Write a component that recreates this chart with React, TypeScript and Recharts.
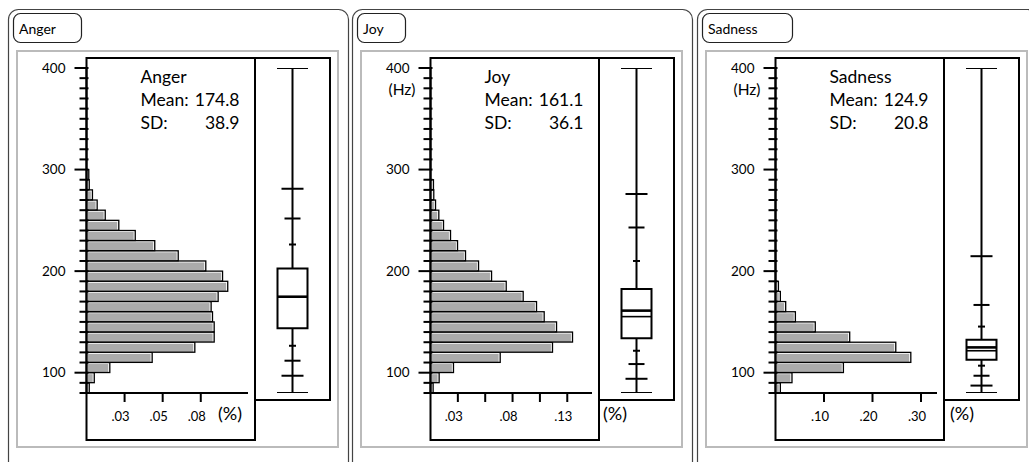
import React from "react";
import {
  BarChart,
  Bar,
  XAxis,
  YAxis,
  ComposedChart,
  Scatter,
  ReferenceArea,
  ReferenceLine,
} from "recharts";

const FONT = "Lato, 'Open Sans', sans-serif";

const emotions = ["Anger", "Joy", "Sadness"];
const means = [174.8, 161.1, 124.9];
const sds = [38.9, 36.1, 20.8];

// 10 Hz bins (lower edges)
const binStarts = [
  80, 90, 100, 110, 120, 130, 140, 150, 160, 170, 180, 190, 200, 210, 220, 230,
  240, 250, 260, 270, 280, 290, 300, 310, 320, 330, 340, 350, 360, 370, 380, 390,
];

// share of frames per bin, starting at 80 Hz
const angerPct = [
  0.0018, 0.0051, 0.0153, 0.0431, 0.0711, 0.0838, 0.0838, 0.0827, 0.0818, 0.0864,
  0.0927, 0.0893, 0.0783, 0.0602, 0.0448, 0.032, 0.0212, 0.0123, 0.007, 0.0039,
  0.0018, 0.0015,
];
const joyPct = [
  0.0024, 0.0079, 0.021, 0.0637, 0.1115, 0.1298, 0.1152, 0.1039, 0.0969, 0.0847,
  0.0692, 0.0558, 0.0439, 0.032, 0.0247, 0.0183, 0.0119, 0.0076, 0.0046, 0.003,
  0.0027,
];
const sadnessPct = [
  0.01, 0.034, 0.14, 0.279, 0.248, 0.153, 0.082, 0.041, 0.021, 0.01, 0.006,
];

// min, 1%, 2.5%, 10%, 25%, median, 75%, 90%, 97.5%, 99%, max
const angerQuantiles = [80, 97, 111.8, 126.5, 143.8, 174.6, 202.6, 226.2, 251.7, 281, 400];
const joyQuantiles = [80, 94, 108.5, 121.6, 134, 155.2, 182.4, 210, 243, 276, 400];
const sadnessQuantiles = [80, 87.3, 97, 106.9, 112.7, 121.6, 132.4, 145.4, 166.7, 214.7, 400];

const hzTicks = [
  80, 90, 100, 110, 120, 130, 140, 150, 160, 170, 180, 190, 200, 210, 220, 230,
  240, 250, 260, 270, 280, 290, 300, 310, 320, 330, 340, 350, 360, 370, 380, 390, 400,
];
const hzLabels = [100, 200, 300, 400];

const angerPctTicks = [0.025, 0.05, 0.075];
const angerPctLabels = [".03", ".05", ".08"];
const joyPctTicks = [0.025, 0.05, 0.075, 0.1, 0.125];
const joyPctLabels = [".03", "", ".08", "", ".13"];
const sadnessPctTicks = [0.1, 0.2, 0.3];
const sadnessPctLabels = [".10", ".20", ".30"];
const pctMax = [0.106, 0.1476, 0.333];

// styles
const CAP_QUANTILES = [0, 1, 2, 3, 7, 8, 9, 10];
const CAP_HALF = [15.5, 11, 8, 3.5, 3.5, 8, 11, 15.5];
const BOX_HALF = 0.4;
const PLOT_TOP = 68;
const PLOT_BOTTOM = 69;

type PanelCfg = {
  ox: number;
  pct: number[];
  ticks: number[];
  labels: string[];
  quantiles: number[];
  showHz: boolean;
  pctLabelX: number;
  tabW: number;
};

const panels: PanelCfg[] = [
  { ox: 0, pct: angerPct, ticks: angerPctTicks, labels: angerPctLabels, quantiles: angerQuantiles, showHz: false, pctLabelX: 218, tabW: 68 },
  { ox: 344, pct: joyPct, ticks: joyPctTicks, labels: joyPctLabels, quantiles: joyQuantiles, showHz: true, pctLabelX: 259, tabW: 48 },
  { ox: 689, pct: sadnessPct, ticks: sadnessPctTicks, labels: sadnessPctLabels, quantiles: sadnessQuantiles, showHz: true, pctLabelX: 261, tabW: 90 },
];

function HistBar(p: any) {
  const { x, y, width, height } = p;
  if (!width || width <= 0.2) return null;
  return (
    <g>
      <rect x={x} y={y + 1.5} width={Math.max(width - 1.6, 0)} height={Math.max(height - 1.5, 0)} fill="#ababab" />
      <rect x={x} y={y} width={width} height={height} fill="none" stroke="#000" strokeWidth={1.3} />
    </g>
  );
}

function HzTick(p: any) {
  const { x, y, payload, showHz } = p;
  const v = payload.value;
  const major = hzLabels.includes(v);
  return (
    <g>
      <line x1={x - (major ? 12 : 7)} x2={x + 2} y1={y} y2={y} stroke="#000" strokeWidth={2} />
      {major && (
        <text x={x - 21} y={y + 4.8} textAnchor="end" fontSize={13.5} fontFamily={FONT} fill="#000">
          {v}
        </text>
      )}
      {showHz && v === 400 && (
        <text x={x - 15} y={y + 26.5} textAnchor="end" fontSize={15.5} fontFamily={FONT} fill="#000">
          (Hz)
        </text>
      )}
    </g>
  );
}

function CapMark(p: any) {
  const { cx, cy, payload } = p;
  return <line x1={cx - payload.half} x2={cx + payload.half} y1={cy} y2={cy} stroke="#000" strokeWidth={2} />;
}

function Panel({ cfg, i }: { cfg: PanelCfg; i: number }) {
  const rows = binStarts.map((b, k) => ({ bin: b, pct: cfg.pct[k] ?? 0 }));
  const tickRows = hzTicks.map((v) => ({ hz: v }));
  const q = cfg.quantiles;
  const caps = CAP_QUANTILES.map((qi, k) => ({ x: 0, y: q[qi], half: CAP_HALF[k] }));
  return (
    <>
      {/* histogram */}
      <div style={{ position: "absolute", left: cfg.ox, top: 0 }}>
        <BarChart
          layout="vertical"
          width={262}
          height={462}
          data={rows}
          margin={{ top: PLOT_TOP, right: 14, bottom: PLOT_BOTTOM - 40, left: 86.5 }}
          barCategoryGap={0}
          barGap={0}
        >
          <XAxis
            type="number"
            domain={[0, pctMax[i]]}
            allowDataOverflow
            ticks={cfg.ticks}
            interval={0}
            height={40}
            tickFormatter={(v: number) => cfg.labels[cfg.ticks.indexOf(v)] ?? ""}
            axisLine={{ stroke: "#000", strokeWidth: 2 }}
            tickLine={{ stroke: "#000", strokeWidth: 2 }}
            tickSize={9}
            tickMargin={10}
            tick={{ fill: "#000", fontSize: 13, fontFamily: FONT, dx: -4 }}
          />
          <YAxis yAxisId="bin" type="category" dataKey="bin" hide reversed width={0} />
          <Bar yAxisId="bin" dataKey="pct" shape={<HistBar />} isAnimationActive={false} />
        </BarChart>
      </div>
      {/* Hz axis */}
      <div style={{ position: "absolute", left: cfg.ox, top: 0 }}>
        <ComposedChart
          width={100}
          height={462}
          data={tickRows}
          margin={{ top: PLOT_TOP, right: 0, bottom: PLOT_BOTTOM, left: 6.5 }}
        >
          <XAxis hide />
          <YAxis
            type="number"
            dataKey="hz"
            domain={[80, 400]}
            allowDataOverflow
            ticks={hzTicks}
            interval={0}
            width={80}
            tickSize={0}
            tickMargin={0}
            tickLine={false}
            axisLine={{ stroke: "#000", strokeWidth: 2 }}
            tick={<HzTick showHz={cfg.showHz} />}
          />
        </ComposedChart>
      </div>
      {/* box plot */}
      <div style={{ position: "absolute", left: cfg.ox + 255, top: 0 }}>
        <ComposedChart width={75} height={462} data={caps} margin={{ top: PLOT_TOP, right: 0, bottom: PLOT_BOTTOM, left: 0 }}>
          <XAxis type="number" dataKey="x" domain={[-1, 1]} hide />
          <YAxis type="number" dataKey="y" domain={[80, 400]} hide allowDataOverflow />
          <ReferenceLine segment={[{ x: 0, y: q[0] }, { x: 0, y: q[4] }]} stroke="#000" strokeWidth={2} />
          <ReferenceLine segment={[{ x: 0, y: q[6] }, { x: 0, y: q[10] }]} stroke="#000" strokeWidth={2} />
          <ReferenceArea x1={-BOX_HALF} x2={BOX_HALF} y1={q[4]} y2={q[6]} fill="#fff" fillOpacity={1} stroke="#000" strokeWidth={2} />
          <ReferenceLine segment={[{ x: -BOX_HALF, y: means[i] }, { x: BOX_HALF, y: means[i] }]} stroke="#000" strokeWidth={2.6} />
          <ReferenceLine segment={[{ x: -BOX_HALF, y: q[5] }, { x: BOX_HALF, y: q[5] }]} stroke="#000" strokeWidth={1.6} />
          <Scatter dataKey="y" shape={<CapMark />} isAnimationActive={false} />
        </ComposedChart>
      </div>
    </>
  );
}

function Frames() {
  return (
    <svg width={1029} height={462} style={{ position: "absolute", left: 0, top: 0 }}>
      {panels.map((cfg, i) => {
        const ox = cfg.ox;
        return (
          <g key={i}>
            <rect x={ox + 8.5} y={9.5} width={340} height={470} rx={10} fill="none" stroke="#444" strokeWidth={1.2} />
            <rect x={ox + 13.5} y={13.5} width={cfg.tabW} height={29} rx={7} fill="#fff" stroke="#222" strokeWidth={1.2} />
            <text x={ox + 19} y={34} fontSize={14} fontFamily={FONT} fill="#000">
              {emotions[i]}
            </text>
            <rect x={ox + 17} y={51} width={321} height={396} fill="none" stroke="#bbb" strokeWidth={2} />
            <rect x={ox + 86.5} y={58} width={168.5} height={382} fill="none" stroke="#000" strokeWidth={2} />
            <rect x={ox + 255} y={58} width={75} height={342} fill="none" stroke="#000" strokeWidth={2} />
            <g fontFamily={FONT} fontSize={17.5} fill="#000">
              <text x={ox + 140.5} y={82.7}>{emotions[i]}</text>
              <text x={ox + 140.5} y={105.7}>Mean:</text>
              <text x={ox + 239.5} y={105.7} textAnchor="end">{means[i].toFixed(1)}</text>
              <text x={ox + 140.5} y={128.7}>SD:</text>
              <text x={ox + 239.5} y={128.7} textAnchor="end">{sds[i].toFixed(1)}</text>
            </g>
            <text x={ox + cfg.pctLabelX} y={420} fontSize={18} fontFamily={FONT} fill="#000">
              (%)
            </text>
          </g>
        );
      })}
    </svg>
  );
}

export default function App() {
  return (
    <div style={{ position: "absolute", left: 0, top: 0, width: 1029, height: 462, overflow: "hidden", background: "#fff" }}>
      <Frames />
      {panels.map((cfg, i) => (
        <Panel key={i} cfg={cfg} i={i} />
      ))}
    </div>
  );
}
